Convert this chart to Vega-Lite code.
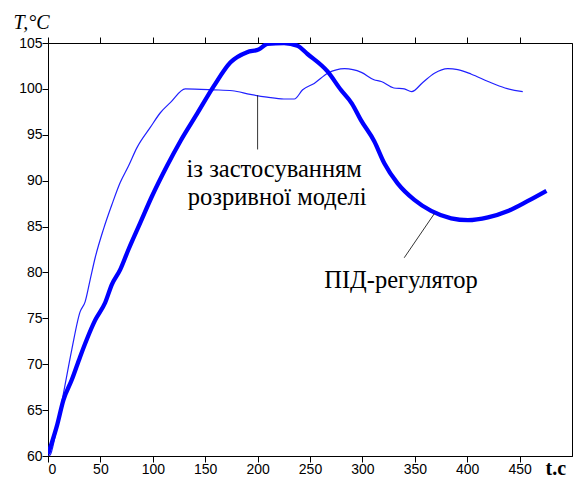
{
  "$schema": "https://vega.github.io/schema/vega-lite/v6.json",
  "width": 524,
  "height": 413,
  "autosize": {"type": "none"},
  "padding": {"left": 48, "top": 43, "right": 1, "bottom": 21},
  "background": "white",
  "config": {
    "view": {"stroke": "black", "strokeWidth": 1},
    "axis": {"grid": false, "domainColor": "black", "tickColor": "black", "tickWidth": 1, "labelColor": "black", "labelFont": "Liberation Sans", "labelFontSize": 14, "tickSize": 6, "labelPadding": 0}
  },
  "datasets": {
    "thin": [
      {"t": 0, "T": 60}, {"t": 2, "T": 60.1}, {"t": 6.7, "T": 62.1}, {"t": 14.7, "T": 66.8}, {"t": 22.7, "T": 71.6},
      {"t": 30.6, "T": 75.7}, {"t": 35.4, "T": 76.8}, {"t": 40.2, "T": 79.2}, {"t": 45, "T": 81.6}, {"t": 52.9, "T": 84.7},
      {"t": 61, "T": 87.4}, {"t": 68.9, "T": 89.8}, {"t": 76.8, "T": 91.6}, {"t": 84.9, "T": 93.6}, {"t": 97.6, "T": 95.8},
      {"t": 107.2, "T": 97.4}, {"t": 116.7, "T": 98.5}, {"t": 131, "T": 100}, {"t": 158, "T": 99.9}, {"t": 176, "T": 99.8},
      {"t": 193, "T": 99.4}, {"t": 209, "T": 99.1}, {"t": 225, "T": 98.9}, {"t": 235, "T": 98.9}, {"t": 243, "T": 99.9},
      {"t": 254, "T": 100.6}, {"t": 267, "T": 101.7}, {"t": 283, "T": 102.2}, {"t": 299, "T": 101.8}, {"t": 311, "T": 101.0},
      {"t": 318, "T": 100.8}, {"t": 330, "T": 100.1}, {"t": 340, "T": 100.0}, {"t": 347, "T": 99.7}, {"t": 357.6, "T": 100.7},
      {"t": 368.7, "T": 101.7}, {"t": 381.5, "T": 102.2}, {"t": 391, "T": 102.1}, {"t": 404, "T": 101.6}, {"t": 420, "T": 100.8},
      {"t": 436, "T": 100.1}, {"t": 453, "T": 99.7}
    ],
    "thick": [
      {"t": 0, "T": 60.2}, {"t": 3.5, "T": 61.4}, {"t": 8.3, "T": 63.2}, {"t": 14.7, "T": 66.1}, {"t": 22.7, "T": 68.3},
      {"t": 30.6, "T": 70.8}, {"t": 37, "T": 72.7}, {"t": 45, "T": 74.8}, {"t": 54.5, "T": 76.7}, {"t": 61, "T": 78.7},
      {"t": 68.9, "T": 80.3}, {"t": 76.8, "T": 82.5}, {"t": 88, "T": 85.4}, {"t": 99.2, "T": 88.3}, {"t": 113.5, "T": 91.6},
      {"t": 126.3, "T": 94.3}, {"t": 142.3, "T": 97.3}, {"t": 158.2, "T": 100.3}, {"t": 174.2, "T": 102.9}, {"t": 190, "T": 104.0},
      {"t": 201.2, "T": 104.3}, {"t": 209.3, "T": 104.9}, {"t": 225.2, "T": 105.0}, {"t": 238, "T": 104.7}, {"t": 247.6, "T": 103.8},
      {"t": 266.7, "T": 101.9}, {"t": 279.4, "T": 99.9}, {"t": 290, "T": 98.4}, {"t": 298.6, "T": 96.6}, {"t": 311.3, "T": 94.3},
      {"t": 320.9, "T": 91.9}, {"t": 333.6, "T": 89.7}, {"t": 349.6, "T": 87.9}, {"t": 365.6, "T": 86.7}, {"t": 384.7, "T": 85.9},
      {"t": 400.7, "T": 85.7}, {"t": 419.8, "T": 86.0}, {"t": 438.9, "T": 86.7}, {"t": 458, "T": 87.8}, {"t": 475.6, "T": 88.9}
    ],
    "leaders": [
      {"t": 200, "T": 99.3, "t2": 200, "T2": 93.4},
      {"t": 339.9, "T": 81.6, "t2": 368.6, "T2": 86.4}
    ],
    "labels": [
      {"t": 215.8, "T": 90.35, "label": "із застосуванням"},
      {"t": 218.7, "T": 87.4, "label": "розривної моделі"},
      {"t": 336.8, "T": 78.35, "label": "ПІД-регулятор"}
    ]
  },
  "layer": [
    {
      "data": {"name": "thin"},
      "mark": {"type": "line", "color": "#2020ff", "strokeWidth": 1.2, "clip": true, "interpolate": "monotone"},
      "encoding": {
        "x": {"field": "t", "type": "quantitative", "scale": {"domain": [0, 500], "nice": false, "zero": false},
              "axis": {"orient": "bottom", "values": [0, 50, 100, 150, 200, 250, 300, 350, 400, 450], "title": "t.c",
                       "titleFont": "Liberation Serif", "titleFontSize": 20, "titleFontWeight": "bold", "titleColor": "black",
                       "titleX": 497, "titleY": 18, "titleAlign": "left", "titleBaseline": "alphabetic", "titleAnchor": null,
                       "encode": {"ticks": {"update": {"y2": {"value": -6}}}}}},
        "y": {"field": "T", "type": "quantitative", "scale": {"domain": [60, 105], "nice": false, "zero": false},
              "axis": {"orient": "left", "values": [60, 65, 70, 75, 80, 85, 90, 95, 100, 105], "title": "T,°C",
                       "titleFont": "Liberation Serif", "titleFontSize": 20, "titleFontStyle": "italic", "titleFontWeight": "normal",
                       "titleColor": "black", "titleAngle": 0, "titleX": -35, "titleY": -15, "titleAlign": "left", "titleBaseline": "alphabetic", "titleAnchor": null,
                       "encode": {"ticks": {"update": {"x2": {"value": 6}}}}}}
      }
    },
    {
      "data": {"name": "thick"},
      "mark": {"type": "line", "color": "#0000ff", "strokeWidth": 4.3, "clip": true, "interpolate": "monotone"},
      "encoding": {
        "x": {"field": "t", "type": "quantitative", "axis": {"orient": "top", "values": [0, 50, 100, 150, 200, 250, 300, 350, 400, 450], "labels": false, "title": null, "domain": false,
              "encode": {"ticks": {"update": {"y2": {"value": 6}}}}}},
        "y": {"field": "T", "type": "quantitative", "axis": {"orient": "right", "values": [60, 65, 70, 75, 80, 85, 90, 95, 100, 105], "labels": false, "title": null, "domain": false,
              "encode": {"ticks": {"update": {"x2": {"value": -6}}}}}}
      }
    },
    {
      "data": {"name": "leaders"},
      "mark": {"type": "rule", "color": "black", "strokeWidth": 0.8},
      "encoding": {
        "x": {"field": "t", "type": "quantitative", "axis": null},
        "y": {"field": "T", "type": "quantitative", "axis": null},
        "x2": {"field": "t2"},
        "y2": {"field": "T2"}
      }
    },
    {
      "data": {"name": "labels"},
      "mark": {"type": "text", "font": "Liberation Serif", "fontSize": 24.5, "align": "center", "baseline": "alphabetic", "color": "black"},
      "encoding": {
        "x": {"field": "t", "type": "quantitative", "axis": null},
        "y": {"field": "T", "type": "quantitative", "axis": null},
        "text": {"field": "label"}
      }
    }
  ],
  "resolve": {"axis": {"x": "independent", "y": "independent"}}
}
